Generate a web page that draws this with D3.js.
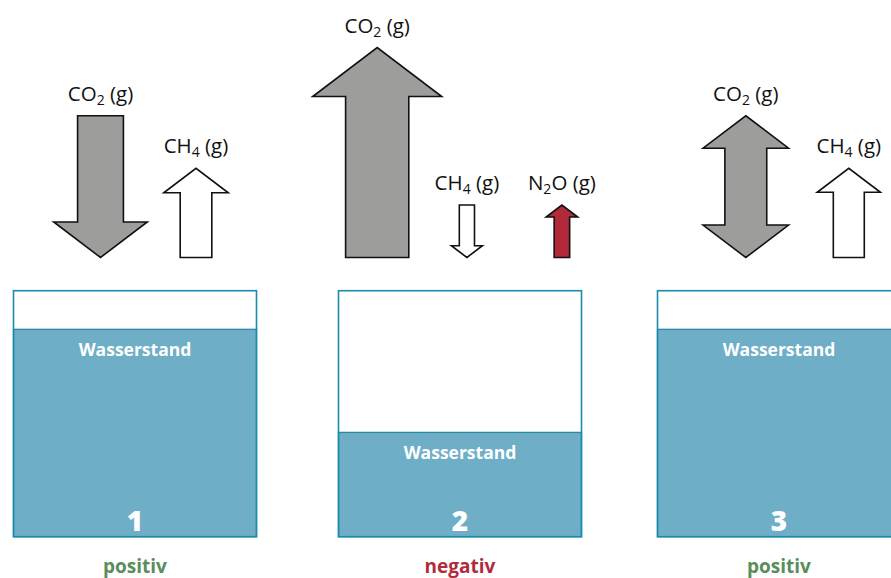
<!DOCTYPE html>
<html><head><meta charset="utf-8">
<script src="https://cdn.jsdelivr.net/npm/d3@7"></script>
<style>
body{margin:0;background:#fff}
svg{display:block}
text{font-family:"Open Sans","Noto Sans",sans-serif}
</style>
</head><body>
<svg id="c" width="891" height="578"></svg>
<script>
// ---- data ----
const scenarios = ["1", "2", "3"];
const verdicts = ["positiv", "negativ", "positiv"];
const waterLevels = [84.3, 42.4, 84.3];          // % of box height
const arrowGas = ["CO2", "CH4", "CO2", "CH4", "N2O", "CO2", "CH4"];
const arrowScenario = ["1", "1", "2", "2", "2", "3", "3"];
const arrowDirection = ["down", "up", "up", "down", "up", "both", "up"];
const arrowFlux = [2.7, 1.7, 4.0, 1.0, 1.0, 2.7, 1.7];     // arrow length (relative)
const arrowWeight = [2.9, 2.0, 4.0, 0.96, 0.98, 2.65, 1.96]; // arrow width (relative)

// ---- layout ----
const svg = d3.select("#c");
const boxW = 243;
const boxX = d3.scaleOrdinal().domain(scenarios).range([13.5, 338.5, 657.5]);
const levelY = d3.scaleLinear().domain([0, 100]).range([536.7, 290.7]);
const lenScale = d3.scaleLinear().domain([0, 4]).range([0, 210]);
const widScale = d3.scaleLinear().domain([0, 4]).range([0, 129]);
const arrowOffsets = [87, 182.5, 38.7, 128.4, 223.4, 88.3, 191.3];
const arrowBase = 257.5;
const gasFill = {CO2: "#9d9d9c", CH4: "#ffffff", N2O: "#b2293a"};
const verdictColor = {positiv: "#5a8d5c", negativ: "#b02c3c"};

// ---- boxes ----
const boxes = scenarios.map((s, i) => ({s, level: waterLevels[i], verdict: verdicts[i]}));
const g = svg.selectAll("g.box").data(boxes).join("g").attr("class", "box");
g.append("rect")
  .attr("x", d => boxX(d.s)).attr("y", levelY(100))
  .attr("width", boxW).attr("height", levelY(0) - levelY(100))
  .attr("fill", "#fff");
g.append("rect")
  .attr("x", d => boxX(d.s)).attr("y", d => levelY(d.level))
  .attr("width", boxW).attr("height", d => levelY(0) - levelY(d.level))
  .attr("fill", "#6eaec7").attr("stroke", "#2b8aa6").attr("stroke-width", 1.3);
g.append("rect")
  .attr("x", d => boxX(d.s)).attr("y", levelY(100))
  .attr("width", boxW).attr("height", levelY(0) - levelY(100))
  .attr("fill", "none").attr("stroke", "#1a8aad").attr("stroke-width", 1.6);
g.append("text")
  .attr("x", d => boxX(d.s) + boxW / 2).attr("y", d => levelY(d.level) + 27)
  .attr("text-anchor", "middle").attr("fill", "#fff")
  .attr("font-size", 17.5).attr("font-weight", 700)
  .text("Wasserstand");
g.append("text")
  .attr("x", d => boxX(d.s) + boxW / 2).attr("y", levelY(0) - 6)
  .attr("text-anchor", "middle").attr("fill", "#fff")
  .attr("font-size", 28).attr("font-weight", 800)
  .text(d => d.s);
g.append("text")
  .attr("x", d => boxX(d.s) + boxW / 2).attr("y", 573)
  .attr("text-anchor", "middle").attr("fill", d => verdictColor[d.verdict])
  .attr("font-size", 19).attr("font-weight", 700)
  .text(d => d.verdict);

// ---- arrows ----
const arrows = arrowGas.map((gas, i) => ({
  gas, s: arrowScenario[i], dir: arrowDirection[i],
  L: lenScale(arrowFlux[i]), W: widScale(arrowWeight[i]),
  cx: boxX(arrowScenario[i]) + arrowOffsets[i]
}));
function arrowPts(d) {
  const W = d.W, S = W * 0.49, H = W * 0.38, cx = d.cx, b = arrowBase, t = b - d.L;
  if (d.dir === "up") return [[cx - S/2, b], [cx - S/2, t + H], [cx - W/2, t + H], [cx, t], [cx + W/2, t + H], [cx + S/2, t + H], [cx + S/2, b]];
  if (d.dir === "down") return [[cx - S/2, t], [cx + S/2, t], [cx + S/2, b - H], [cx + W/2, b - H], [cx, b], [cx - W/2, b - H], [cx - S/2, b - H]];
  return [[cx, t], [cx + W/2, t + H], [cx + S/2, t + H], [cx + S/2, b - H], [cx + W/2, b - H], [cx, b], [cx - W/2, b - H], [cx - S/2, b - H], [cx - S/2, t + H], [cx - W/2, t + H]];
}
const line = d3.line().curve(d3.curveLinearClosed);
svg.selectAll("path.arrow").data(arrows).join("path").attr("class", "arrow")
  .attr("d", d => line(arrowPts(d)))
  .attr("fill", d => gasFill[d.gas]).attr("stroke", "#111")
  .attr("stroke-width", 1.6).attr("stroke-linejoin", "miter").attr("stroke-miterlimit", 10);

const lbl = svg.selectAll("text.lbl").data(arrows).join("text").attr("class", "lbl")
  .attr("x", d => d.cx).attr("y", d => arrowBase - d.L - 15)
  .attr("text-anchor", "middle").attr("font-size", 20.5).attr("fill", "#111");
lbl.each(function(d) {
  const t = d3.select(this);
  const m = d.gas.match(/^([A-Z]+)(\d)(.*)$/);
  t.append("tspan").text(m[1]);
  t.append("tspan").attr("font-size", 14).attr("dy", 4).text(m[2]);
  t.append("tspan").attr("dy", -4).text(m[3] + " (g)");
});
</script>
</body></html>
